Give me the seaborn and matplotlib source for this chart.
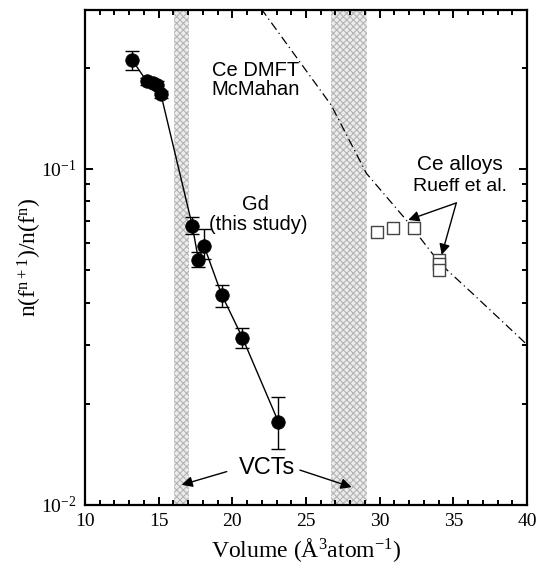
import matplotlib
matplotlib.use("Agg")
import numpy as np
import matplotlib.pyplot as plt
import seaborn as sns

# Gd (this study)
gd_volume = [13.2, 14.2, 14.6, 14.9, 15.15, 17.28, 17.7, 18.08, 19.28, 20.68, 23.12]
gd_ratio = [0.211, 0.182, 0.180, 0.178, 0.167, 0.0678, 0.0536, 0.059, 0.0422, 0.0315, 0.0177]
gd_low = [0.197, 0.178, 0.176, 0.174, 0.163, 0.0641, 0.0511, 0.0540, 0.0388, 0.0293, 0.0147]
gd_high = [0.225, 0.186, 0.184, 0.182, 0.171, 0.0720, 0.0565, 0.0663, 0.0452, 0.0336, 0.0209]

# Ce alloys (Rueff et al.)
ce_volume = [29.8, 30.9, 32.3, 34.05, 34.05, 34.05]
ce_ratio = [0.065, 0.0668, 0.0665, 0.0535, 0.0522, 0.050]

# Ce DMFT (McMahan)
dmft_volume = [21.95, 26.7, 29.1, 31.8, 34.1, 36.4, 40.0]
dmft_ratio = [0.30, 0.155, 0.097, 0.0705, 0.0523, 0.0422, 0.030]

# volume collapse transitions
vct_bands = [(16.05, 17.05), (26.7, 29.15)]

sns.set_style("ticks")
plt.rcParams['font.family'] = ['Liberation Serif', 'DejaVu Serif']
plt.rcParams['mathtext.fontset'] = 'custom'
plt.rcParams['mathtext.rm'] = 'Liberation Serif'
plt.rcParams['mathtext.it'] = 'Liberation Serif'
for key in ['text.color', 'axes.labelcolor', 'xtick.color', 'ytick.color', 'axes.edgecolor']:
    plt.rcParams[key] = 'black'
plt.rcParams['hatch.linewidth'] = 0.8
sans = ['Liberation Sans', 'DejaVu Sans']

fig = plt.figure(figsize=(5.48, 5.69), dpi=100)
ax = fig.add_axes([0.1551, 0.1125, 0.8066, 0.8699])

for lo, hi in vct_bands:
    ax.axvspan(lo, hi, facecolor='#ececec', edgecolor='#b4b4b4',
               hatch='xxxxx', linewidth=0, zorder=0)

# DMFT curve
sns.lineplot(x=dmft_volume, y=dmft_ratio, ax=ax, color='k', lw=0.9,
             sort=False, estimator=None, zorder=2)
ax.lines[-1].set_linestyle((0, (7, 3, 1, 3)))

# Gd data
gd_v = np.array(gd_volume)
gd_r = np.array(gd_ratio)
yerr = [gd_r - np.array(gd_low), np.array(gd_high) - gd_r]
ax.errorbar(gd_v, gd_r, yerr=yerr, fmt='none', ecolor='k', elinewidth=1,
            capsize=5, capthick=1, zorder=3)
sns.lineplot(x=gd_volume, y=gd_ratio, ax=ax, color='k', lw=1,
             sort=False, estimator=None, zorder=3)
sns.scatterplot(x=gd_volume, y=gd_ratio, ax=ax, color='k', s=95,
                edgecolor='k', linewidth=0.5, zorder=4)

# Ce alloys
sns.scatterplot(x=ce_volume, y=ce_ratio, ax=ax, marker='s', s=80,
                facecolor='white', edgecolor='#444444', linewidth=1, zorder=4)

ax.set_yscale('log')
ax.set_xlim(10, 40)
ax.set_ylim(0.01, 0.297)
ax.set_xticks([10, 15, 20, 25, 30, 35, 40])
ax.set_xticks(np.arange(10, 41, 1), minor=True)
ax.set_yticks([0.01, 0.1])
ax.set_yticklabels([r'10$^{\mathrm{-2}}$', r'10$^{\mathrm{-1}}$'])
ax.set_yticks([0.02, 0.03, 0.04, 0.05, 0.06, 0.07, 0.08, 0.09, 0.2], minor=True)
ax.yaxis.set_minor_formatter(matplotlib.ticker.NullFormatter())
ax.tick_params(which='both', direction='in', top=True, right=True,
               width=1.4, labelsize=14, pad=6)
ax.tick_params(which='major', length=6)
ax.tick_params(which='minor', length=3.5)
for sp in ax.spines.values():
    sp.set_linewidth(1.6)

ax.set_xlabel(r'Volume (Å$^{\mathrm{3}}$atom$^{\mathrm{-1}}$)', fontsize=17, labelpad=4)
ax.set_ylabel(r'n(f$^{\mathrm{n+1}}$)/n(f$^{\mathrm{n}}$)', fontsize=17, labelpad=-2)

ax.text(21.6, 0.184, 'Ce DMFT\nMcMahan', family=sans, fontsize=14.5,
        ha='center', va='center', linespacing=0.95)
ax.text(21.54, 0.0781, 'Gd', family=sans, fontsize=14.5, ha='center', va='center')
ax.text(21.74, 0.0681, '(this study)', family=sans, fontsize=14.5,
        ha='center', va='center')
ax.text(35.45, 0.1028, 'Ce alloys', family=sans, fontsize=15, ha='center', va='center')
ax.text(35.45, 0.0884, 'Rueff et al.', family=sans, fontsize=14, ha='center', va='center')
ax.text(22.33, 0.0129, 'VCTs', family=sans, fontsize=17, ha='center', va='center')

arrow = dict(arrowstyle='-|>', color='k', lw=1, mutation_scale=16, shrinkA=0, shrinkB=0)
ax.annotate('', xy=(31.94, 0.0705), xytext=(35.2, 0.0792), arrowprops=arrow)
ax.annotate('', xy=(34.21, 0.0555), xytext=(35.2, 0.0792), arrowprops=arrow)
ax.annotate('', xy=(16.56, 0.01148), xytext=(19.62, 0.01257), arrowprops=arrow)
ax.annotate('', xy=(28.1, 0.0113), xytext=(24.59, 0.0127), arrowprops=arrow)

fig.savefig('out.png', dpi=100)
